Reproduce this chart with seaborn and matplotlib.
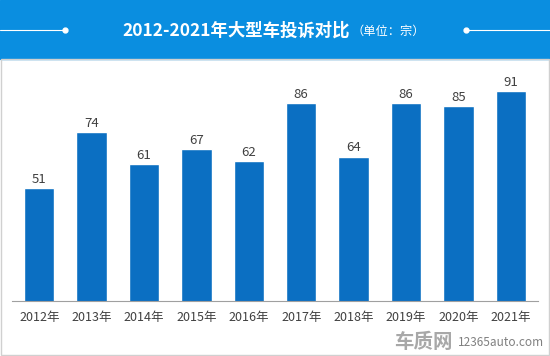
import matplotlib
matplotlib.use("Agg")
import matplotlib.pyplot as plt
import seaborn as sns
import pandas as pd
from matplotlib.patches import Rectangle
from matplotlib.lines import Line2D

years = ["2012年", "2013年", "2014年", "2015年", "2016年",
         "2017年", "2018年", "2019年", "2020年", "2021年"]
complaints = [51, 74, 61, 67, 62, 86, 64, 86, 85, 91]

df = pd.DataFrame({"year": years, "count": complaints})

sns.set_style("white")
plt.rcParams["font.family"] = ["Noto Sans CJK SC", "DejaVu Sans"]

bar_color = "#0b6fc2"
header_color = "#0a8ee0"
text_color = "#404040"

fig = plt.figure(figsize=(5.5, 3.56), dpi=100)
ax = fig.add_axes([12 / 550, 1 - 301 / 356, 526 / 550, 231.6 / 356])

sns.barplot(data=df, x="year", y="count", color=bar_color, saturation=1,
            width=0.58, ax=ax)
ax.set_ylim(4.3, 100)
ax.set_xlim(-0.52, 9.52)
ax.set_xlabel("")
ax.set_ylabel("")
ax.set_yticks([])
for s in ["top", "right", "left"]:
    ax.spines[s].set_visible(False)
ax.spines["bottom"].set_color("#a0a0a0")
ax.spines["bottom"].set_linewidth(0.8)
ax.tick_params(axis="x", length=0, pad=7, labelsize=9, labelcolor=text_color)

for i, v in enumerate(complaints):
    ax.annotate(str(v), (i, v), xytext=(0, 1.5), textcoords="offset points",
                ha="center", va="bottom", fontsize=9.5, color=text_color)

# header band
fig.patches.append(Rectangle((0, 1 - 59 / 356), 1, 59 / 356,
                             transform=fig.transFigure, color=header_color, zorder=0))
fig.text(350 / 550, 1 - 31 / 356, "2012-2021年大型车投诉对比", color="white",
         fontsize=12.5, fontweight="bold", ha="right", va="center")
fig.text(352 / 550, 1 - 31 / 356, "（单位：宗）", color="white",
         fontsize=8.8, ha="left", va="center")
ly = 1 - 30 / 356
fig.lines.append(Line2D([0, 65 / 550], [ly, ly], transform=fig.transFigure,
                        color="white", lw=0.8))
fig.lines.append(Line2D([466 / 550, 1], [ly, ly], transform=fig.transFigure,
                        color="white", lw=0.8))
fig.lines.append(Line2D([65 / 550, 466 / 550], [ly, ly], transform=fig.transFigure,
                        color="white", lw=0, marker="o", markersize=3.5))

# frame
fig.patches.append(Rectangle((1 / 550, 1 / 356), 548 / 550, 1 - 60 / 356,
                             transform=fig.transFigure, fill=False,
                             edgecolor="#d0d0d0", lw=1))

# watermark
fig.text(394 / 550, 1 - 342 / 356, "车质网", color="#a8a8a8", fontsize=14,
         fontweight="bold", ha="left", va="center")
fig.text(458 / 550, 1 - 343 / 356, "12365auto.com", color="#808080", fontsize=8.5,
         ha="left", va="center")

fig.savefig("out.png", dpi=100)
